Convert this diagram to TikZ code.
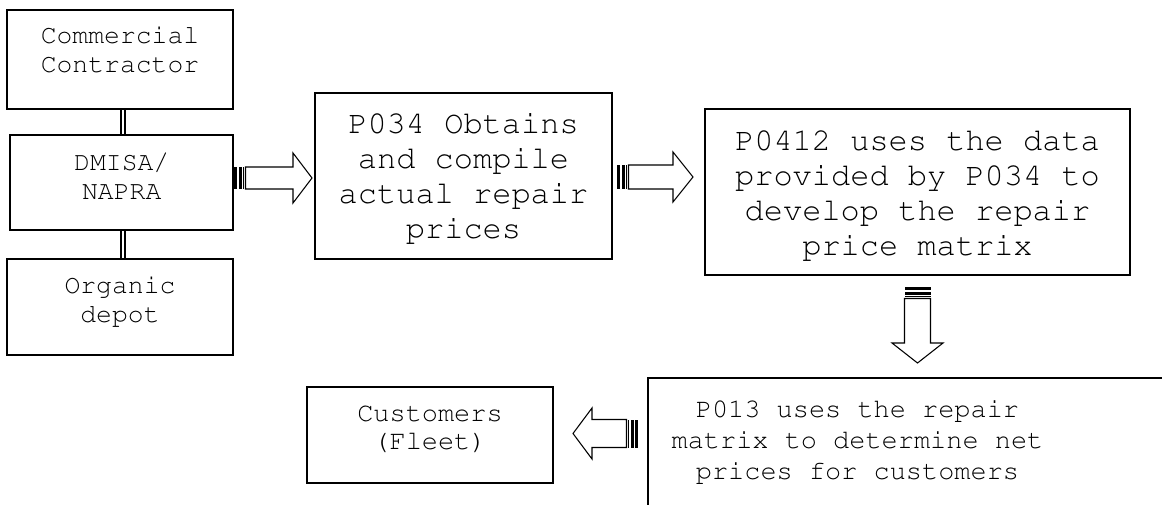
\documentclass[tikz,border=0pt]{standalone}
\usepackage[T1]{fontenc}
\usepackage{courier}
\begin{document}
\begin{tikzpicture}[x=0.75pt,y=-0.75pt,
  box/.style={draw, line width=1.5pt, rectangle, inner sep=0pt},
  txtl/.style={font=\ttfamily\fontsize{19.8}{22}\selectfont, align=center, inner sep=0pt, anchor=north},
  txtb/.style={font=\ttfamily\fontsize{24}{26.25}\selectfont, align=center, inner sep=0pt, anchor=north},
  txtm/.style={font=\ttfamily\fontsize{20.2}{23.25}\selectfont, align=center, inner sep=0pt, anchor=north},
  txtc/.style={font=\ttfamily\fontsize{20.2}{21}\selectfont, align=center, inner sep=0pt, anchor=north},
  dbl/.style={double, line width=1.1pt, double distance=1.7pt},
  arrowline/.style={draw, fill=white, line width=0.8pt, line join=miter},
  pics/sarrow/.style n args={4}{code={
      \fill (0,-#2) rectangle (3,#2);
      \fill (4.5,-#2) rectangle (7.5,#2);
      \fill (9,-#2) rectangle (10.2,#2);
      \path[arrowline] (11.5,-#2) -- (#1-#4,-#2) -- (#1-#4,-#3) -- (#1,0) -- (#1-#4,#3) -- (#1-#4,#2) -- (11.5,#2) -- cycle;
  }}
]
\useasboundingbox (0,0) rectangle (1162,504);
\clip (0,0) rectangle (1162,504);

% boxes
\node[box, minimum width=169.5pt, minimum height=74.25pt] (cc) at (120,59.5) {};
\node[box, minimum width=166.9pt, minimum height=71.25pt] (dm) at (121.75,182.5) {};
\node[box, minimum width=169.5pt, minimum height=72pt] (od) at (120,307) {};
\node[box, minimum width=222.75pt, minimum height=124.5pt] (p034) at (463.5,176) {};
\node[box, minimum width=318.75pt, minimum height=124.5pt] (p0412) at (917.5,192) {};
\node[box, minimum width=451.5pt, minimum height=136.5pt] (p013) at (949,469) {};
\node[box, minimum width=184.5pt, minimum height=72pt] (cust) at (430,435) {};

% texts
\node[txtl] (cct) at (120,26) {Commercial\\Contractor};
\node[txtl] (dmt) at (121.75,153) {DMISA/\\NAPRA};
\node[txtl] (odt) at (120,276) {Organic\\depot};
\node[txtb] (p034t) at (463.5,113) {P034 Obtains\\and compile\\actual repair\\prices};
\node[txtb] (p0412t) at (917.5,130) {P0412 uses the data\\provided by P034 to\\develop the repair\\price matrix};
\node[txtm] (p013t) at (857.5,400) {P013 uses the repair\\matrix to determine net\\prices for customers};
\node[txtc] (custt) at (430,405) {Customers\\(Fleet)};

% double connectors
\coordinate (vx) at (123,0);
\draw[dbl] (cc.south -| vx) -- (dm.north -| vx);
\draw[dbl] (dm.south -| vx) -- (od.north -| vx);

% striped block arrows
\pic at (234,178) {sarrow={78}{11}{25}{19}};
\pic at (617,177) {sarrow={76}{12}{25}{20}};
\pic[rotate=-90] at (917.5,287) {sarrow={76}{13}{25.5}{20}};
\pic[rotate=180] at (638,433.5) {sarrow={65}{14}{25.5}{19}};
\end{tikzpicture}
\end{document}
